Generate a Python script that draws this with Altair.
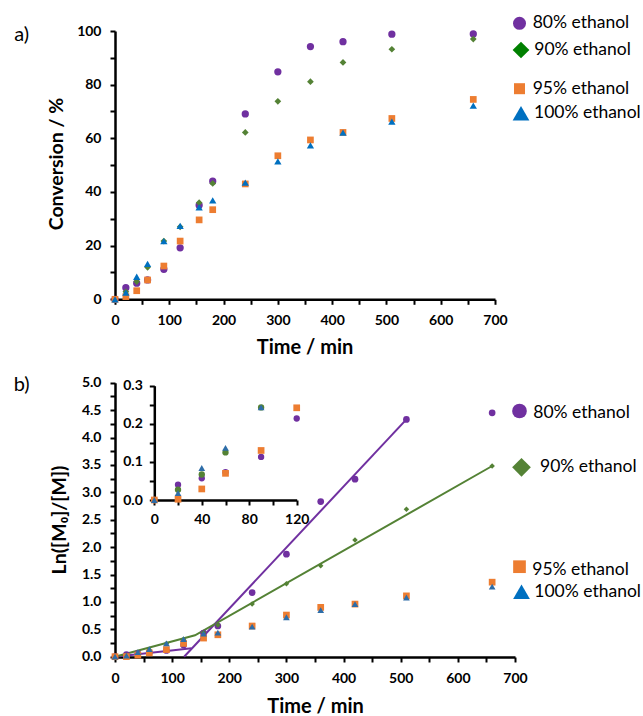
import altair as alt
import pandas as pd

# ---------------- data ----------------
times = [0, 20, 40, 60, 90, 120, 155, 180, 240, 300, 360, 420, 510, 660]
series = ["80% ethanol", "90% ethanol", "95% ethanol", "100% ethanol"]

# a) conversion (%)
conv_80 = [0, 4.3, 6.0, 7.2, 11.2, 19.2, 35.1, 44.0, 69.1, 84.8, 94.2, 96.0, 98.8, 98.9]
conv_90 = [0, 2.8, 6.6, 11.9, 21.7, 27.0, 36.0, 43.2, 62.2, 73.8, 81.1, 88.3, 93.2, 97.0]
conv_95 = [0, 1.0, 3.2, 7.2, 12.4, 21.7, 29.6, 33.4, 43.0, 53.5, 59.4, 62.2, 67.4, 74.5]
conv_100 = [0, 2.5, 8.4, 13.2, 21.7, 27.4, 34.3, 36.9, 43.5, 51.4, 57.4, 62.1, 66.2, 72.2]

# b) ln([M0]/[M])
ln_80 = [0, 0.040, 0.057, 0.073, 0.113, 0.214, 0.43, 0.56, 1.17, 1.87, 2.83, 3.24, 4.33, 4.45]
ln_90 = [0, 0.027, 0.067, 0.125, 0.243, 0.32, 0.44, 0.58, 0.96, 1.33, 1.66, 2.13, 2.69, 3.48]
ln_95 = [0, 0.002, 0.029, 0.070, 0.130, 0.242, 0.34, 0.40, 0.56, 0.76, 0.90, 0.96, 1.11, 1.36]
ln_100 = [0, 0.018, 0.084, 0.137, 0.243, 0.32, 0.42, 0.44, 0.55, 0.72, 0.85, 0.96, 1.08, 1.28]

# fitted lines in b)
fit80_t = [0, 134, 121, 510]
fit80_y = [0, 0.155, 0, 4.33]
fit80_seg = [1, 1, 2, 2]
fit90_t = [0, 140, 660]
fit90_y = [0, 0.39, 3.48]

# ---------------- styling ----------------
FONT = "Lato"
PURPLE = "#7030A0"
GREEN = "#548235"
GREEN_LEG = "#008000"
ORANGE = "#ED7D31"
BLUE = "#0070C0"
BLUE_B = "#2E6DA8"

W, H = 400, 626
TOP_X = alt.Scale(domain=[0, 700], range=[0, 380], nice=False, zero=False)
TOP_Y = alt.Scale(domain=[0, 100], range=[268.3, 0], nice=False, zero=False)
BOT_X = alt.Scale(domain=[0, 700], range=[0, 400], nice=False, zero=False)
BOT_Y = alt.Scale(domain=[0, 5], range=[625.7, 351.7], nice=False, zero=False)
INS_X = alt.Scale(domain=[0, 120], range=[39.3, 181.7], nice=False, zero=False)
INS_Y = alt.Scale(domain=[0, 0.3], range=[469, 354.7], nice=False, zero=False)


def ax(orient, values, label_expr, offset=0, fmt=None, label_padding=9):
    kw = dict(orient=orient, values=values, labelExpr=label_expr, offset=offset,
              title=None, grid=False, domainColor="black", domainWidth=2.5,
              tickColor="black", tickWidth=2, tickSize=5, labelFont=FONT,
              labelFontWeight="bold", labelFontSize=14, labelColor="black",
              labelFlush=False, labelOverlap=False, labelPadding=label_padding)
    if fmt:
        kw["format"] = fmt
    return alt.Axis(**kw)


top_xaxis = ax("bottom", list(range(0, 701, 50)),
               "datum.value % 100 == 0 ? datum.label : ''", offset=268.3 - H)
top_yaxis = ax("left", list(range(0, 101, 10)),
               "datum.value % 20 == 0 ? datum.label : ''")
bot_xaxis = ax("bottom", list(range(0, 701, 50)),
               "datum.value % 100 == 0 ? datum.label : ''")
bot_yaxis = ax("left", [i * 0.25 for i in range(21)],
               "round(datum.value * 100) % 50 == 0 ? datum.label : ''", fmt=".1f")
ins_xaxis = ax("bottom", list(range(0, 121, 20)),
               "datum.value % 40 == 0 ? datum.label : ''", offset=469 - H, label_padding=7)
ins_yaxis = ax("left", [i * 0.05 for i in range(7)],
               "round(datum.value * 100) % 10 == 0 ? datum.label : ''",
               offset=-39.3, fmt=".1f", label_padding=7)


def pts(t, v, xs, ys, shape, color, size, xaxis=None, yaxis=None, vmax=None, tmax=None):
    df = pd.DataFrame({"t": t, "v": v})
    if vmax is not None:
        df = df[(df.v <= vmax) & (df.t <= tmax)]
    return alt.Chart(df).mark_point(filled=True, shape=shape, size=size, color=color,
                                    opacity=1, strokeWidth=0).encode(
        x=alt.X("t:Q", scale=xs, axis=xaxis),
        y=alt.Y("v:Q", scale=ys, axis=yaxis),
    )


def label(text, x, y, size, weight="normal", angle=0, align="center"):
    return alt.Chart(pd.DataFrame({"label": [text]})).mark_text(
        font=FONT, fontSize=size, fontWeight=weight, angle=angle, align=align,
        baseline="middle", color="black").encode(
        x=alt.value(x), y=alt.value(y), text="label:N")


def marker(x, y, shape, color, size):
    return alt.Chart(pd.DataFrame({"k": [0]})).mark_point(
        filled=True, shape=shape, size=size, color=color, opacity=1, strokeWidth=0).encode(
        x=alt.value(x), y=alt.value(y))


layers = []
# ---- a) ----
layers.append(pts(times, conv_80, TOP_X, TOP_Y, "circle", PURPLE, 53, top_xaxis, top_yaxis))
layers.append(pts(times, conv_90, TOP_X, TOP_Y, "diamond", GREEN, 45))
layers.append(pts(times, conv_95, TOP_X, TOP_Y, "square", ORANGE, 45))
layers.append(pts(times, conv_100, TOP_X, TOP_Y, "triangle-up", BLUE, 53))

# ---- b) fit lines ----
fit80 = pd.DataFrame({"t": fit80_t, "v": fit80_y, "seg": fit80_seg})
fit90 = pd.DataFrame({"t": fit90_t, "v": fit90_y})
layers.append(alt.Chart(fit80).mark_line(color=PURPLE, strokeWidth=2).encode(
    x=alt.X("t:Q", scale=BOT_X, axis=None), y=alt.Y("v:Q", scale=BOT_Y, axis=None),
    detail="seg:N"))
layers.append(alt.Chart(fit90).mark_line(color=GREEN, strokeWidth=2).encode(
    x=alt.X("t:Q", scale=BOT_X, axis=None), y=alt.Y("v:Q", scale=BOT_Y, axis=None)))

# ---- b) points ----
layers.append(pts(times, ln_80, BOT_X, BOT_Y, "circle", PURPLE, 45, bot_xaxis, bot_yaxis))
layers.append(pts(times, ln_90, BOT_X, BOT_Y, "diamond", GREEN, 30))
layers.append(pts(times, ln_95, BOT_X, BOT_Y, "square", ORANGE, 45))
layers.append(pts(times, ln_100, BOT_X, BOT_Y, "triangle-up", BLUE_B, 45))

# ---- inset ----
layers.append(pts(times, ln_80, INS_X, INS_Y, "circle", PURPLE, 40, ins_xaxis, ins_yaxis, 0.3, 120))
layers.append(pts(times, ln_90, INS_X, INS_Y, "circle", GREEN, 40, vmax=0.3, tmax=120))
layers.append(pts(times, ln_95, INS_X, INS_Y, "square", ORANGE, 45, vmax=0.3, tmax=120))
layers.append(pts(times, ln_100, INS_X, INS_Y, "triangle-up", BLUE_B, 45, vmax=0.3, tmax=120))

# ---- texts ----
layers += [
    label("a)", -93.3, 4, 20),
    label("b)", -93.3, 354, 20),
    label("Conversion / %", -58, 133, 19.5, "bold", 270),
    label("Ln([M₀]/[M])", -55, 489, 19.5, "bold", 270),
    label("Time / min", 190, 317.3, 20, "bold"),
    label("Time / min", 200.5, 675.7, 20, "bold"),
]

# ---- legends ----
leg_top = [(-7.7, "circle", PURPLE, 169, 417.7), (19, "diamond", GREEN_LEG, 280, 419.3),
           (57.7, "square", ORANGE, 121, 417.7), (82.3, "triangle-up", BLUE, 280, 419)]
for (y, shp, col, sz, tx), name in zip(leg_top, series):
    layers.append(marker(404.5 if shp in ("circle", "square") else 406, y, shp, col, sz))
    layers.append(label(name, tx, y, 17.5, align="left"))

leg_bot = [(380, 382, "circle", PURPLE, 216, 418.3), (436.3, 436.3, "diamond", GREEN, 350, 425),
           (535.7, 539, "square", ORANGE, 161, 417.3), (560.7, 560.7, "triangle-up", BLUE, 280, 419.3)]
for (y, ty, shp, col, sz, tx), name in zip(leg_bot, series):
    layers.append(marker(404.5 if shp in ("circle", "square") else 406.5, y, shp, col, sz))
    layers.append(label(name, tx, ty, 17.5, align="left"))

chart = alt.layer(*layers).resolve_scale(
    x="independent", y="independent"
).properties(
    width=W, height=H,
    autosize=alt.AutoSizeParams(type="none"),
    padding={"left": 115, "top": 31, "right": 128, "bottom": 59},
    background="white",
).configure_view(stroke=None)

chart.save("out.html", embed_options={"renderer": "svg", "actions": False})
